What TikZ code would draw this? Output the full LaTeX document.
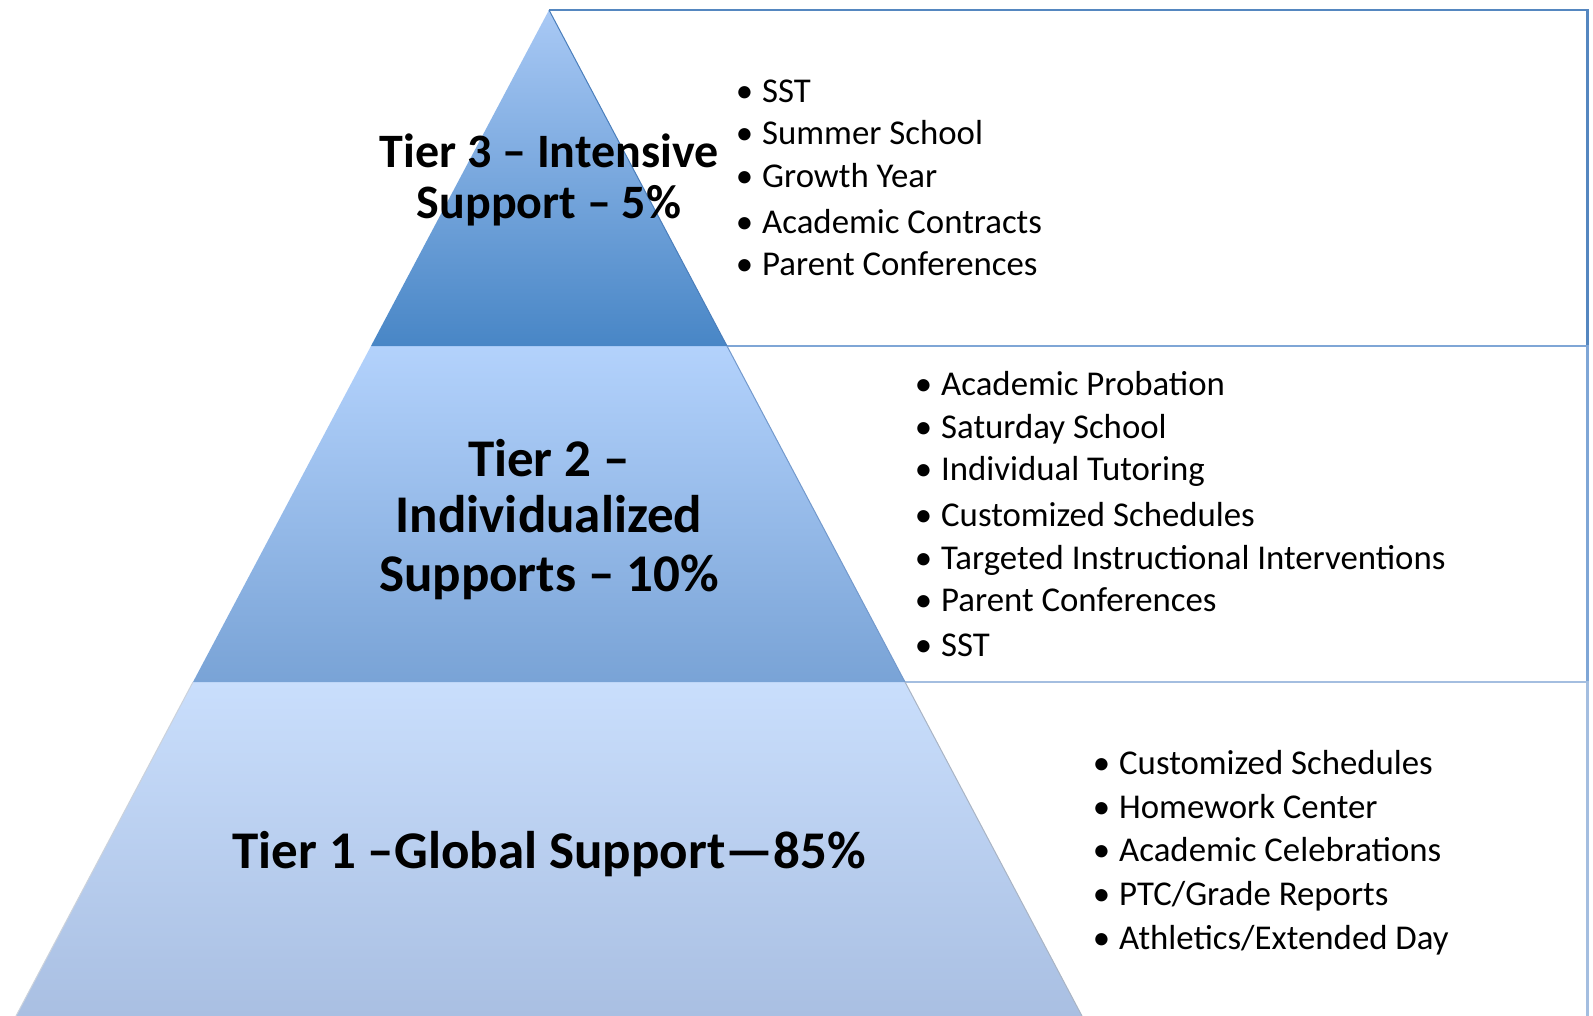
\documentclass[tikz,border=0pt]{standalone}
\usepackage{fontspec}
\setmainfont{Carlito}
\definecolor{tthreetop}{HTML}{A9C9F5}
\definecolor{tthreebot}{HTML}{4886C6}
\definecolor{ttwotop}{HTML}{B3D2FC}
\definecolor{ttwobot}{HTML}{79A3D6}
\definecolor{tonetop}{HTML}{C9DEFC}
\definecolor{tonebot}{HTML}{A9BFE2}
\definecolor{lineA}{HTML}{5587C0}
\definecolor{lineB}{HTML}{7FA6D6}
\definecolor{lineC}{HTML}{A4BEE0}
\definecolor{edgeA}{HTML}{4A7EBB}
\definecolor{edgeB}{HTML}{7399CC}
\definecolor{edgeC}{HTML}{A9B4C4}
\tikzset{
  titlethree/.style={font=\bfseries\fontsize{48}{51}\selectfont, anchor=base, inner sep=0pt},
  titletwo/.style={font=\bfseries\fontsize{53}{57}\selectfont, anchor=base, inner sep=0pt},
  titleone/.style={font=\bfseries\fontsize{53}{57}\selectfont, anchor=base, inner sep=0pt},
  listitem/.style={font=\fontsize{34.8}{43}\selectfont, anchor=base west, inner sep=0pt},
  boxline/.style={line width=2.2pt},
}
\newcommand{\bitem}[1]{\llap{\textbullet\hspace{9pt}}#1}
\begin{document}
\begin{tikzpicture}[x=1pt,y=-1pt]
\useasboundingbox (0,0) rectangle (1593,1016);
\fill[white] (0,0) rectangle (1593,1016);
% text boxes
\draw[boxline, lineA] (549,10) -- (1587.5,10) -- (1587.5,346);
\draw[boxline, lineB] (727,346) -- (1587.5,346) -- (1587.5,682);
\draw[boxline, lineC] (905,682) -- (1587.5,682) -- (1587.5,1017);
% pyramid tiers
\shade[top color=tonetop, bottom color=tonebot] (193,682) -- (905,682) -- (1082,1016) -- (16,1016) -- cycle;
\shade[top color=ttwotop, bottom color=ttwobot] (371,346) -- (727,346) -- (905,682) -- (193,682) -- cycle;
\shade[top color=tthreetop, bottom color=tthreebot] (549,10) -- (727,346) -- (371,346) -- cycle;
% edges
\draw[edgeA, line width=1pt] (549,10) -- (727,346);
\draw[edgeB, line width=1pt] (727,346) -- (905,682);
\draw[edgeC, line width=1pt] (905,682) -- (1082,1016);
\draw[edgeC!60, line width=1pt] (193,682) -- (16,1016);
% tier 3 title
\node[titlethree] (t3a) at (549,168) {Tier 3 – Intensive};
\node[titlethree] (t3b) at (549,219) {Support – 5\%};
% tier 2 title
\node[titletwo] (t2a) at (549,476) {Tier 2 –};
\node[titletwo] (t2b) at (549,532) {Individualized};
\node[titletwo] (t2c) at (549,591) {Supports – 10\%};
% tier 1 title
\node[titleone] (t1a) at (549,868) {Tier 1 –Global Support—85\%};
% tier 3 list
\node[listitem] (l3a) at (762,103) {\bitem{SST}};
\node[listitem] (l3b) at (762,145) {\bitem{Summer School}};
\node[listitem] (l3c) at (762,188) {\bitem{Growth Year}};
\node[listitem] (l3d) at (762,234) {\bitem{Academic Contracts}};
\node[listitem] (l3e) at (762,276) {\bitem{Parent Conferences}};
% tier 2 list
\node[listitem] (l2a) at (941,395) {\bitem{Academic Probation}};
\node[listitem] (l2b) at (941,438) {\bitem{Saturday School}};
\node[listitem] (l2c) at (941,480) {\bitem{Individual Tutoring}};
\node[listitem] (l2d) at (941,526) {\bitem{Customized Schedules}};
\node[listitem] (l2e) at (941,569) {\bitem{Targeted Instructional Interventions}};
\node[listitem] (l2f) at (941,611) {\bitem{Parent Conferences}};
\node[listitem] (l2g) at (941,656) {\bitem{SST}};
% tier 1 list
\node[listitem] (l1a) at (1119,774) {\bitem{Customized Schedules}};
\node[listitem] (l1b) at (1119,818) {\bitem{Homework Center}};
\node[listitem] (l1c) at (1119,861) {\bitem{Academic Celebrations}};
\node[listitem] (l1d) at (1119,905) {\bitem{PTC/Grade Reports}};
\node[listitem] (l1e) at (1119,949) {\bitem{Athletics/Extended Day}};
\end{tikzpicture}
\end{document}
